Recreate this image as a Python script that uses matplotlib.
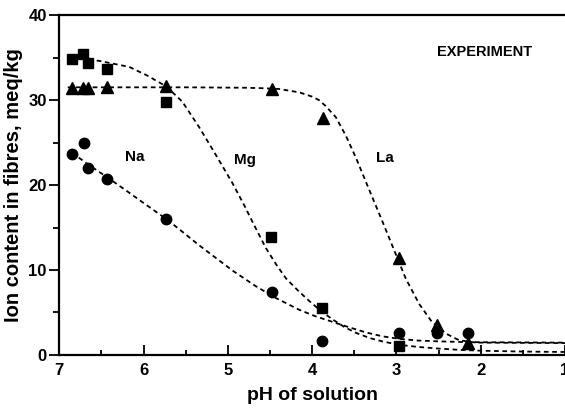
import matplotlib
matplotlib.use("Agg")
import matplotlib.pyplot as plt

plt.rcParams['font.family'] = ['Liberation Sans', 'DejaVu Sans']
plt.rcParams['font.weight'] = 'bold'

# Measured points
na_ph = [6.85, 6.71, 6.66, 6.44, 5.74, 4.48, 3.88, 2.97, 2.52, 2.15]
na_val = [23.6, 25.0, 22.0, 20.7, 16.0, 7.4, 1.6, 2.6, 2.6, 2.6]

mg_ph = [6.85, 6.72, 6.66, 6.44, 5.74, 4.49, 3.88, 2.97]
mg_val = [34.8, 35.4, 34.4, 33.6, 29.8, 13.9, 5.5, 1.0]

la_ph = [6.85, 6.72, 6.66, 6.44, 5.74, 4.48, 3.87, 2.97, 2.52, 2.15]
la_val = [31.4, 31.4, 31.4, 31.5, 31.6, 31.3, 27.9, 11.4, 3.5, 1.4]

# Fitted curves
na_fit_ph = [6.85, 6.64, 6.43, 6.20, 5.96, 5.73, 5.54, 5.34, 5.14, 4.94, 4.67, 4.43,
             4.15, 3.96, 3.76, 3.56, 3.36, 3.17, 2.97, 2.75, 2.5, 2.2, 2.0, 1.0]
na_fit_val = [23.8, 22.3, 20.9, 19.3, 17.6, 16.0, 14.5, 12.9, 11.4, 9.9, 8.1, 6.7,
              5.3, 4.55, 3.9, 3.25, 2.65, 2.2, 1.9, 1.7, 1.6, 1.52, 1.5, 1.45]

mg_fit_ph = [6.85, 6.52, 6.17, 5.96, 5.73, 5.54, 5.34, 5.14, 4.95, 4.80, 4.71, 4.55,
             4.43, 4.31, 4.17, 4.04, 3.90, 3.76, 3.62, 3.48, 3.32, 3.17, 2.97, 2.75,
             2.5, 2.25, 2.0, 1.5, 1.0]
mg_fit_val = [35.0, 34.6, 33.9, 32.9, 31.6, 29.8, 26.8, 23.5, 20.3, 17.5, 15.7, 12.6,
              10.7, 9.0, 7.6, 6.4, 5.2, 4.2, 3.3, 2.6, 2.0, 1.6, 1.2, 0.95, 0.75,
              0.6, 0.5, 0.4, 0.35]

la_fit_ph = [6.9, 5.5, 4.8, 4.6, 4.39, 4.15, 4.0, 3.92, 3.84, 3.72, 3.60, 3.48, 3.33,
             3.17, 3.03, 2.89, 2.73, 2.58, 2.41, 2.26, 2.1, 2.0, 1.0]
la_fit_val = [31.5, 31.5, 31.45, 31.4, 31.3, 30.9, 30.4, 30.0, 29.3, 28.0, 25.8, 23.2,
              19.6, 15.8, 12.4, 9.0, 6.0, 3.9, 2.5, 1.75, 1.5, 1.45, 1.4]

x_ticks = [7, 6, 5, 4, 3, 2, 1]
y_ticks = [0, 10, 20, 30, 40]

fig = plt.figure(figsize=(5.65, 4.08), dpi=100)
ax = fig.add_axes([0.105, 0.130, 0.895, 0.833])

dash = (2.6, 2.0)
for xs, ys in [(na_fit_ph, na_fit_val), (mg_fit_ph, mg_fit_val), (la_fit_ph, la_fit_val)]:
    ax.plot(xs, ys, color='black', lw=1.3, dashes=dash, zorder=2)

ax.plot(na_ph, na_val, 'o', color='black', ms=7.5, zorder=3, clip_on=False)
ax.plot(mg_ph, mg_val, 's', color='black', ms=6.5, zorder=3, clip_on=False)
ax.plot(la_ph, la_val, '^', color='black', ms=8, zorder=3, clip_on=False)

ax.set_xlim(7, 1.0)
ax.set_ylim(0, 40)
ax.set_xticks(x_ticks)
ax.set_xticklabels([str(v) for v in x_ticks])
ax.set_yticks(y_ticks)
ax.set_xticks([6.5, 5.5, 4.5, 3.5, 2.5, 1.5], minor=True)
ax.set_yticks([5, 15, 25, 35], minor=True)
ax.tick_params(axis='x', which='major', direction='in', length=7, width=1.3,
               labelsize=12, pad=6)
ax.tick_params(axis='x', which='minor', direction='in', length=3.5, width=1.3)
ax.tick_params(axis='y', which='major', direction='out', length=7, width=1.3,
               labelsize=12, pad=2)
ax.tick_params(axis='y', which='minor', direction='out', length=4, width=1.3)
for lab in ax.get_xticklabels() + ax.get_yticklabels():
    lab.set_fontweight('bold')

ax.spines['right'].set_visible(False)
for s in ['left', 'bottom', 'top']:
    ax.spines[s].set_linewidth(1.6)

ax.set_xlabel('pH of solution', fontsize=14, fontweight='bold', labelpad=6)
ax.set_ylabel('Ion content in fibres, meq/kg', fontsize=14.5, fontweight='bold', labelpad=4)

ax.text(6.11, 23.3, 'Na', fontsize=11, fontweight='bold', ha='center', va='center')
ax.text(4.80, 22.9, 'Mg', fontsize=11, fontweight='bold', ha='center', va='center')
ax.text(3.14, 23.2, 'La', fontsize=11, fontweight='bold', ha='center', va='center')
ax.text(1.96, 35.6, 'EXPERIMENT', fontsize=10.5, fontweight='bold', ha='center', va='center')

fig.savefig('out.png', dpi=100)
